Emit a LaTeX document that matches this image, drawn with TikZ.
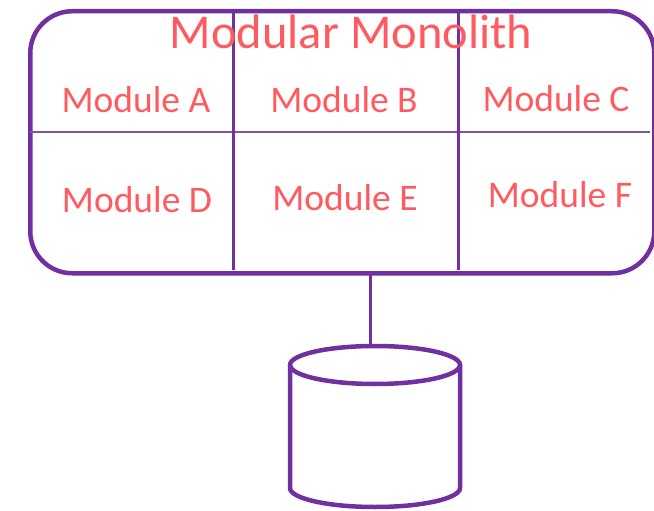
\documentclass[tikz,border=0pt]{standalone}
\usepackage{fontspec}
\setmainfont{Carlito}
\definecolor{frame}{HTML}{7030A0}
\definecolor{label}{HTML}{FF5A5F}
\begin{document}
\begin{tikzpicture}[x=1pt,y=-1pt,
  modlabel/.style={text=label,font=\fontsize{37.5}{40}\selectfont,anchor=base,inner sep=0pt},
  divider/.style={draw=frame,line width=3pt},
  thin divider/.style={draw=frame!85,line width=2pt},
  dbline/.style={draw=frame,line width=4.5pt}]
\useasboundingbox (0,0) rectangle (654,511);
% monolith container
\node[draw=frame,line width=4.5pt,rounded corners=42pt,minimum width=624pt,minimum height=262pt,inner sep=0pt,anchor=north west] (mono) at (28,9) {};
% grid lines between modules
\coordinate (row) at (30,132);
\coordinate (rowend) at (650,132);
\draw[thin divider] (row) -- (rowend);
\coordinate (c1t) at (233,11);
\coordinate (c1b) at (233,270);
\coordinate (c2t) at (458.5,11);
\coordinate (c2b) at (458.5,270);
\draw[divider] (c1t) -- (c1b);
\draw[divider] (c2t) -- (c2b);
% title and module labels
\node[text=label,font=\fontsize{48.5}{50}\selectfont,anchor=base,inner sep=0pt] (title) at (351,49) {Modular Monolith};
\node[modlabel] (ma) at (136,113) {Module A};
\node[modlabel] (mb) at (344,113) {Module B};
\node[modlabel] (mc) at (556,112) {Module C};
\node[modlabel] (md) at (137,212) {Module D};
\node[modlabel] (me) at (345,210) {Module E};
\node[modlabel] (mf) at (560,207) {Module F};
% database cylinder
\coordinate (dbtop) at (370,346);
\coordinate (monobot) at (370,271);
\draw[line width=3pt,draw=frame] (monobot) -- (dbtop);
\draw[dbline] (375,365) ellipse [x radius=85, y radius=19];
\draw[dbline] (290,365) -- (290,488) arc[start angle=180,end angle=0,x radius=85,y radius=19] -- (460,365);
\node[inner sep=0pt] (db) at (375,430) {};
\end{tikzpicture}
\end{document}
